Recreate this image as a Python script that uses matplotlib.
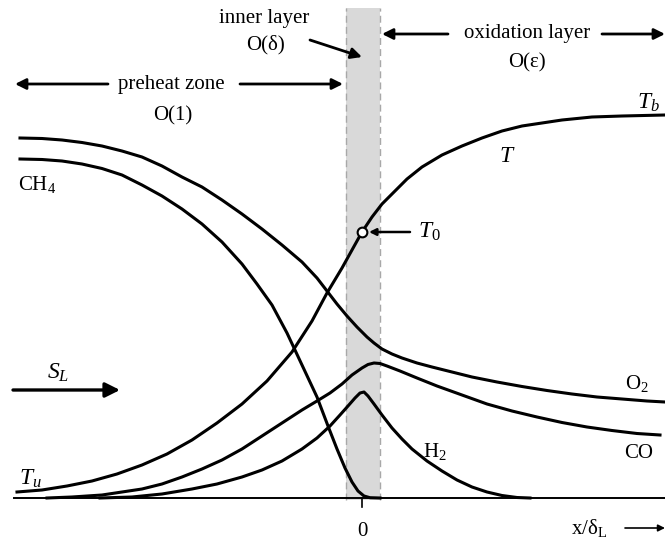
#
# Structure of a premixed methane flame: preheat zone, thin inner layer and
# oxidation layer, with temperature and species profiles across the flame.
#

import matplotlib.pyplot as plt

# profiles along x/delta_L (flame sits at 0), values in arbitrary units
T_x = [-3.45, -3.2, -2.95, -2.7, -2.45, -2.2, -1.95, -1.7, -1.45, -1.2, -0.95,
       -0.7, -0.5, -0.35, -0.2, -0.1, 0.0, 0.1, 0.2, 0.3, 0.45, 0.6, 0.8, 1.0,
       1.2, 1.4, 1.6, 1.8, 2.0, 2.3, 2.6, 3.03]
T_y = [0.06, 0.08, 0.12, 0.17, 0.24, 0.33, 0.44, 0.58, 0.75, 0.94, 1.17,
       1.46, 1.77, 2.05, 2.30, 2.48, 2.66, 2.81, 2.94, 3.04, 3.19, 3.31, 3.43, 3.52,
       3.60, 3.67, 3.72, 3.75, 3.78, 3.81, 3.82, 3.83]

O2_x = [-3.42, -3.2, -3.0, -2.8, -2.6, -2.4, -2.2, -2.0, -1.8, -1.6, -1.4, -1.2,
        -1.0, -0.8, -0.6, -0.45, -0.35, -0.25, -0.15, -0.05, 0.05, 0.12, 0.2,
        0.3, 0.4, 0.55, 0.7, 0.9, 1.1, 1.35, 1.6, 1.85, 2.1, 2.35, 2.6, 2.85, 3.03]
O2_y = [3.60, 3.595, 3.58, 3.555, 3.52, 3.47, 3.41, 3.32, 3.21, 3.11, 2.98, 2.84,
        2.69, 2.53, 2.36, 2.20, 2.07, 1.94, 1.82, 1.71, 1.61, 1.55, 1.49,
        1.44, 1.40, 1.35, 1.31, 1.26, 1.21, 1.16, 1.115, 1.075, 1.04, 1.01, 0.99,
        0.97, 0.96]

CH4_x = [-3.42, -3.2, -3.0, -2.8, -2.6, -2.4, -2.2, -2.0, -1.8, -1.6, -1.4, -1.2,
         -1.05, -0.9, -0.75, -0.6, -0.45, -0.34, -0.25, -0.17, -0.1, -0.04, 0.02,
         0.08, 0.18]
CH4_y = [3.39, 3.385, 3.37, 3.34, 3.295, 3.23, 3.13, 3.02, 2.89, 2.74, 2.56, 2.34,
         2.14, 1.93, 1.65, 1.33, 1.01, 0.72, 0.49, 0.30, 0.16, 0.07, 0.02,
         0.003, 0.0]

CO_x = [-3.15, -2.9, -2.6, -2.4, -2.2, -2.0, -1.8, -1.6, -1.4, -1.2, -1.0, -0.8,
        -0.6, -0.45, -0.32, -0.2, -0.1, 0.0, 0.06, 0.12, 0.18, 0.25, 0.38, 0.55,
        0.75, 1.0, 1.25, 1.5, 1.75, 2.0, 2.25, 2.5, 2.75, 2.98]
CO_y = [0.0, 0.01, 0.03, 0.06, 0.09, 0.14, 0.21, 0.29, 0.38, 0.49, 0.62, 0.75,
        0.88, 0.97, 1.05, 1.14, 1.23, 1.30, 1.335, 1.35, 1.345, 1.32, 1.27, 1.20,
        1.12, 1.03, 0.94, 0.87, 0.81, 0.755, 0.71, 0.675, 0.645, 0.63]

H2_x = [-2.62, -2.3, -2.0, -1.7, -1.45, -1.2, -1.0, -0.8, -0.6, -0.45, -0.32,
        -0.22, -0.14, -0.07, -0.02, 0.02, 0.06, 0.12, 0.2, 0.3, 0.4, 0.5, 0.65,
        0.8, 0.95, 1.1, 1.25, 1.4, 1.55, 1.68]
H2_y = [0.0, 0.01, 0.04, 0.09, 0.14, 0.21, 0.28, 0.37, 0.49, 0.60, 0.72,
        0.83, 0.92, 1.00, 1.05, 1.06, 1.02, 0.94, 0.83, 0.70, 0.59, 0.49, 0.37,
        0.27, 0.18, 0.11, 0.06, 0.025, 0.005, 0.0]

# inner layer extent and the inner layer temperature T0
INNER_LAYER = (-0.16, 0.18)
T0_X = 0.0
T0_Y = 2.66

plt.rcParams['font.family'] = ['Liberation Serif', 'DejaVu Serif']
plt.rcParams['mathtext.fontset'] = 'custom'
plt.rcParams['mathtext.rm'] = 'Liberation Serif'
plt.rcParams['mathtext.it'] = 'Liberation Serif:italic'

fig = plt.figure(figsize=(6.65, 5.43), dpi=100)
ax = fig.add_axes([0, 0, 1, 1])
ax.set_xlim(-3.62, 3.03)
ax.set_ylim(-0.45, 4.98)
ax.axis('off')

# shaded inner layer with dashed edges
ax.axvspan(INNER_LAYER[0], INNER_LAYER[1], ymin=0.08, ymax=0.985,
           facecolor='#d9d9d9', edgecolor='none', zorder=0)
for xb in INNER_LAYER:
    ax.plot([xb, xb], [-0.02, 4.90], color='#a8a8a8', lw=1.0,
            ls=(0, (5, 3)), zorder=1)

# x axis and the tick at the flame position
ax.plot([-3.48, 3.03], [0, 0], color='black', lw=1.4, zorder=2)
ax.plot([0, 0], [0, -0.09], color='black', lw=1.2)
ax.text(0, -0.33, '0', ha='center', va='center', fontsize=15)

style = dict(color='black', lw=2.2, solid_joinstyle='round', zorder=3)
ax.plot(T_x, T_y, **style)
ax.plot(O2_x, O2_y, **style)
ax.plot(CH4_x, CH4_y, **style)
ax.plot(CO_x, CO_y, **style)
ax.plot(H2_x, H2_y, **style)

ax.plot(T0_X, T0_Y, 'o', ms=7, mfc='white', mec='black', mew=1.5, zorder=5)


def arrow(x0, y0, x1, y1, width=2.0, size=16):
    ax.annotate('', xy=(x1, y1), xytext=(x0, y0),
                arrowprops=dict(arrowstyle='-|>', lw=width, color='black',
                                mutation_scale=size, shrinkA=0, shrinkB=0))


# zone annotations along the top
arrow(-2.54, 4.14, -3.47, 4.14)
arrow(-1.22, 4.14, -0.19, 4.14)
ax.text(-1.91, 4.14, 'preheat zone', ha='center', va='center', fontsize=15)
ax.text(-1.89, 3.82, 'O(1)', ha='center', va='center', fontsize=15)

ax.text(-0.98, 4.79, 'inner layer', ha='center', va='center', fontsize=15)
ax.text(-0.96, 4.53, 'O(δ)', ha='center', va='center', fontsize=15)
arrow(-0.52, 4.58, 0.0, 4.41)

arrow(0.86, 4.64, 0.20, 4.64)
arrow(2.40, 4.64, 3.03, 4.64)
ax.text(1.65, 4.65, 'oxidation layer', ha='center', va='center', fontsize=15)
ax.text(1.65, 4.35, 'O(ε)', ha='center', va='center', fontsize=15)

# curve labels
ax.text(2.86, 3.95, r'$T_b$', ha='center', va='center', fontsize=17)
ax.text(1.45, 3.42, r'$T$', ha='center', va='center', fontsize=17)
ax.text(0.56, 2.66, r'$T_0$', ha='left', va='center', fontsize=17)
arrow(0.48, 2.66, 0.07, 2.66, width=1.8, size=10)
ax.text(-3.44, 3.14, r'CH$_4$', ha='left', va='center', fontsize=15)
ax.text(-3.32, 0.19, r'$T_u$', ha='center', va='center', fontsize=17)
ax.text(2.75, 1.15, r'O$_2$', ha='center', va='center', fontsize=15)
ax.text(0.73, 0.47, r'H$_2$', ha='center', va='center', fontsize=15)
ax.text(2.77, 0.45, 'CO', ha='center', va='center', fontsize=15)

# flow direction
ax.text(-3.04, 1.25, r'$S_L$', ha='center', va='center', fontsize=17)
arrow(-3.49, 1.08, -2.42, 1.08, width=2.4, size=22)

ax.text(2.27, -0.30, r'x/δ$_{\rm L}$', ha='center', va='center', fontsize=15)
arrow(2.63, -0.30, 3.03, -0.30, width=1.2, size=10)

plt.savefig('out.png', dpi=100)
